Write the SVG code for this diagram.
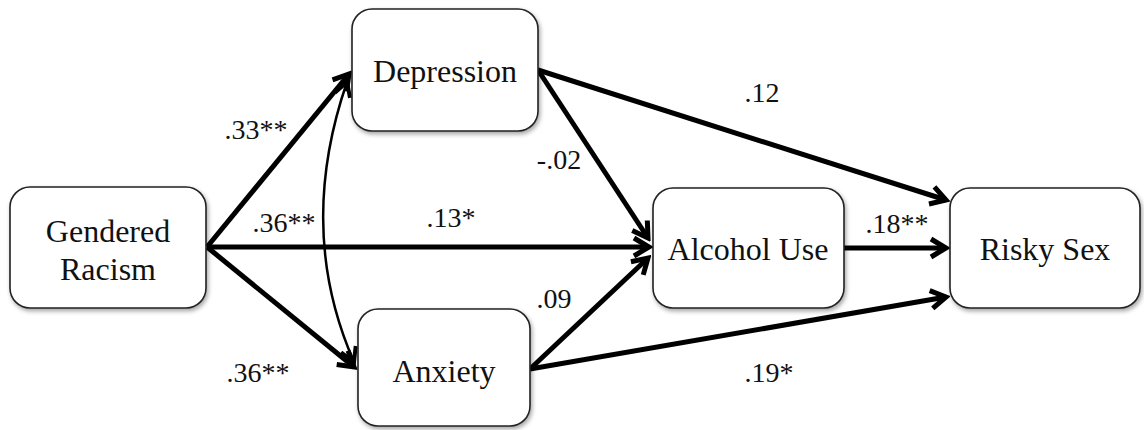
<svg xmlns="http://www.w3.org/2000/svg" width="1144" height="430" viewBox="0 0 1144 430" font-family="Liberation Serif, Times New Roman, DejaVu Serif, serif">
<style>
.box{fill:#fff;stroke:#222;stroke-width:1.6;filter:url(#sh)}
.nt{font-size:32px;fill:#111;text-anchor:middle}
.lb{font-size:28px;fill:#111;text-anchor:middle}
.ln{fill:none;stroke:#000;stroke-width:5;marker-end:url(#ah)}
.cv{fill:none;stroke:#000;stroke-width:2.5;marker-end:url(#ah2);marker-start:url(#ah2s)}
</style>
<defs>
<filter id="sh" x="-10%" y="-10%" width="125%" height="130%">
<feDropShadow dx="1.5" dy="2.5" stdDeviation="2" flood-color="#000" flood-opacity="0.35"/>
</filter>
<marker id="ah" markerUnits="userSpaceOnUse" viewBox="-20 -12 24 24" refX="0" refY="0" markerWidth="24" markerHeight="24" orient="auto">
<path d="M-15,-9 L0,0 L-15,9" fill="none" stroke="#000" stroke-width="5" stroke-linejoin="miter"/>
</marker>
<marker id="ah2" markerUnits="userSpaceOnUse" viewBox="-20 -12 24 24" refX="0" refY="0" markerWidth="24" markerHeight="24" orient="auto">
<path d="M-14,-8 L0,0 L-14,8" fill="none" stroke="#000" stroke-width="4"/>
</marker>
<marker id="ah2s" markerUnits="userSpaceOnUse" viewBox="-20 -12 24 24" refX="0" refY="0" markerWidth="24" markerHeight="24" orient="auto-start-reverse">
<path d="M-14,-8 L0,0 L-14,8" fill="none" stroke="#000" stroke-width="4"/>
</marker>
</defs>
<g id="connectors">
<path class="ln" d="M207,247 L349,74"/>
<path class="ln" d="M207,247 L354,367"/>
<path class="ln" d="M207,247 L649,247"/>
<path class="ln" d="M538,70 L648,238"/>
<path class="ln" d="M538,70 L946,200"/>
<path class="ln" d="M844,248 L946,248"/>
<path class="ln" d="M530,369 L648,258"/>
<path class="ln" d="M530,369 L946,297"/>
<path class="cv" d="M347,82 Q296,230 354,362"/>
</g>
<g id="labels" font-family="Liberation Serif, serif">
<text class="lb" x="256" y="139">.33**</text>
<text class="lb" x="284" y="232">.36**</text>
<text class="lb" x="451" y="227">.13*</text>
<text class="lb" x="559" y="169">-.02</text>
<text class="lb" x="762" y="102">.12</text>
<text class="lb" x="897" y="233">.18**</text>
<text class="lb" x="554" y="308">.09</text>
<text class="lb" x="258" y="382">.36**</text>
<text class="lb" x="769" y="382">.19*</text>
</g>
<g id="gendered-racism" font-family="Liberation Serif, serif">
<rect class="box" x="10" y="187" width="196" height="121" rx="20"/>
<text class="nt" x="108" y="242">Gendered</text>
<text class="nt" x="108" y="280">Racism</text>
</g>
<g id="depression" font-family="Liberation Serif, serif">
<rect class="box" x="352" y="9" width="186" height="122" rx="20"/>
<text class="nt" x="445" y="82">Depression</text>
</g>
<g id="anxiety" font-family="Liberation Serif, serif">
<rect class="box" x="358" y="309" width="172" height="117" rx="20"/>
<text class="nt" x="444" y="382">Anxiety</text>
</g>
<g id="alcohol-use" font-family="Liberation Serif, serif">
<rect class="box" x="653" y="188" width="191" height="120" rx="20"/>
<text class="nt" x="748" y="260">Alcohol Use</text>
</g>
<g id="risky-sex" font-family="Liberation Serif, serif">
<rect class="box" x="950" y="188" width="190" height="120" rx="20"/>
<text class="nt" x="1045" y="260">Risky Sex</text>
</g>
</svg>
